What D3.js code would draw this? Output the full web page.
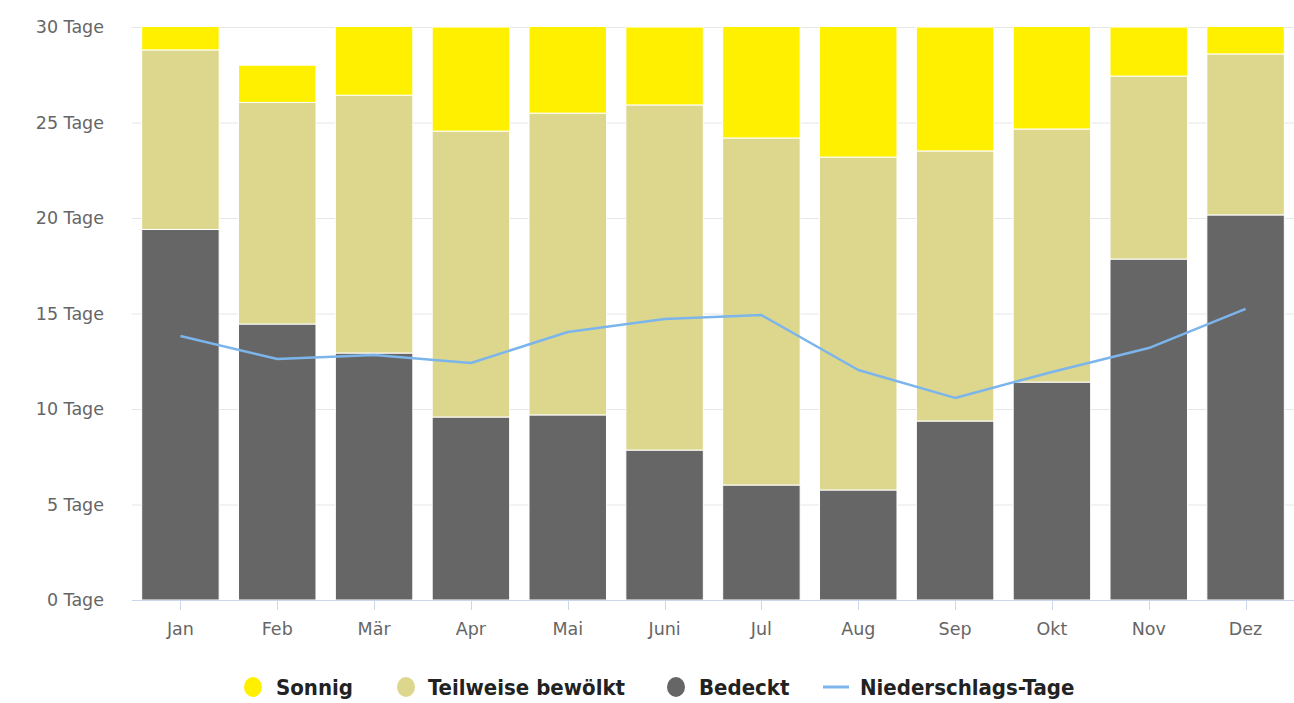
<!DOCTYPE html>
<html><head><meta charset="utf-8">
<script src="https://cdn.jsdelivr.net/npm/d3@7"></script>
<style>body{margin:0;background:#fff;}svg{display:block;}</style>
</head><body>
<svg id="c" width="1294" height="703"></svg>
<script>
const months = ["Jan","Feb","Mär","Apr","Mai","Juni","Jul","Aug","Sep","Okt","Nov","Dez"];
const bedeckt = [19.4,14.45,12.93,9.58,9.69,7.85,6.02,5.76,9.37,11.41,17.85,20.16];
const teilweise = [9.4,11.6,13.5,14.97,15.8,18.07,18.17,17.43,14.14,13.25,9.58,8.43];
const sonnig = [2.2,1.95,4.57,5.45,5.51,4.08,6.81,7.81,6.49,6.34,2.57,2.41];
const niederschlag = [13.82,12.62,12.83,12.41,14.03,14.71,14.92,12.04,10.58,11.94,13.19,15.24];
const yTicks = [0,5,10,15,20,25,30];

(function(){
const svg = d3.select("#c");
const pL = 132, pR = 1294, pT = 27, pB = 600;
const x = d3.scaleBand().domain(months).range([pL, pR]).paddingInner(0.2).paddingOuter(0.1);
const xc = d3.scaleBand().domain(months).range([pL, pR]);
const y = d3.scaleLinear().domain([0,30]).range([pB, pT]);

svg.append("defs").append("clipPath").attr("id","clip")
  .append("rect").attr("x",pL).attr("y",pT).attr("width",pR-pL).attr("height",pB-pT);

svg.append("g").selectAll("line").data(yTicks.filter(d=>d>0)).join("line")
  .attr("x1",pL).attr("x2",pR).attr("y1",d=>y(d)+0.5).attr("y2",d=>y(d)+0.5)
  .attr("stroke","#e6e6e6").attr("stroke-width",1);

const font = "'DejaVu Sans', sans-serif";
svg.append("g").selectAll("text").data(yTicks).join("text")
  .attr("x",104).attr("y",d=>y(d)+6).attr("text-anchor","end")
  .attr("fill","#666").style("font-family",font).style("font-size","17.5px")
  .text(d=>d+" Tage");

const stack = months.map((m,i)=>({m, b:bedeckt[i], t:teilweise[i], s:sonnig[i]}));
const series = [
  {key:"b", color:"#666666", base:d=>0},
  {key:"t", color:"#dcd78d", base:d=>d.b},
  {key:"s", color:"#fff000", base:d=>d.b+d.t}
];
const gb = svg.append("g").attr("clip-path","url(#clip)");
series.forEach(s=>{
  gb.append("g").selectAll("rect").data(stack).join("rect")
    .attr("x",d=>x(d.m)).attr("width",x.bandwidth())
    .attr("y",d=>y(s.base(d)+d[s.key])).attr("height",d=>y(s.base(d))-y(s.base(d)+d[s.key]))
    .attr("fill",s.color).attr("stroke","#fff").attr("stroke-width",1);
});

svg.append("line").attr("x1",pL).attr("x2",pR).attr("y1",pB+0.5).attr("y2",pB+0.5)
  .attr("stroke","#ccd6eb").attr("stroke-width",1);
svg.append("g").selectAll("line").data(months).join("line")
  .attr("x1",d=>Math.round(xc(d)+xc.bandwidth()/2)+0.5).attr("x2",d=>Math.round(xc(d)+xc.bandwidth()/2)+0.5)
  .attr("y1",pB).attr("y2",pB+10).attr("stroke","#ccd6eb");
svg.append("g").selectAll("text").data(months).join("text")
  .attr("x",d=>xc(d)+xc.bandwidth()/2).attr("y",635).attr("text-anchor","middle")
  .attr("fill","#666").style("font-family",font).style("font-size","17.5px").text(d=>d);

const line = d3.line().x((d,i)=>xc(months[i])+xc.bandwidth()/2).y(d=>y(d));
svg.append("path").datum(niederschlag).attr("d",line).attr("fill","none")
  .attr("stroke","#7cb5ec").attr("stroke-width",2.5).attr("stroke-linejoin","round");

const lf = "'DejaVu Sans Condensed', 'DejaVu Sans', sans-serif";
const leg = [
  {name:"Sonnig", color:"#fff000", cx:253, tx:276, type:"c"},
  {name:"Teilweise bewölkt", color:"#dcd78d", cx:406, tx:428, type:"c"},
  {name:"Bedeckt", color:"#666666", cx:676, tx:699, type:"c"},
  {name:"Niederschlags-Tage", color:"#7cb5ec", cx:836, tx:860, type:"l"}
];
const lg = svg.append("g");
leg.forEach(l=>{
  if(l.type==="c") lg.append("ellipse").attr("cx",l.cx).attr("cy",687).attr("rx",9).attr("ry",10).attr("fill",l.color);
  else lg.append("line").attr("x1",l.cx-13).attr("x2",l.cx+13).attr("y1",687).attr("y2",687).attr("stroke",l.color).attr("stroke-width",3);
  lg.append("text").attr("x",l.tx).attr("y",695).attr("fill","#222").style("font-family",lf)
    .style("font-size","22px").style("font-weight","bold").attr("textLength",null).text(l.name);
});
})();
</script>
</body></html>
